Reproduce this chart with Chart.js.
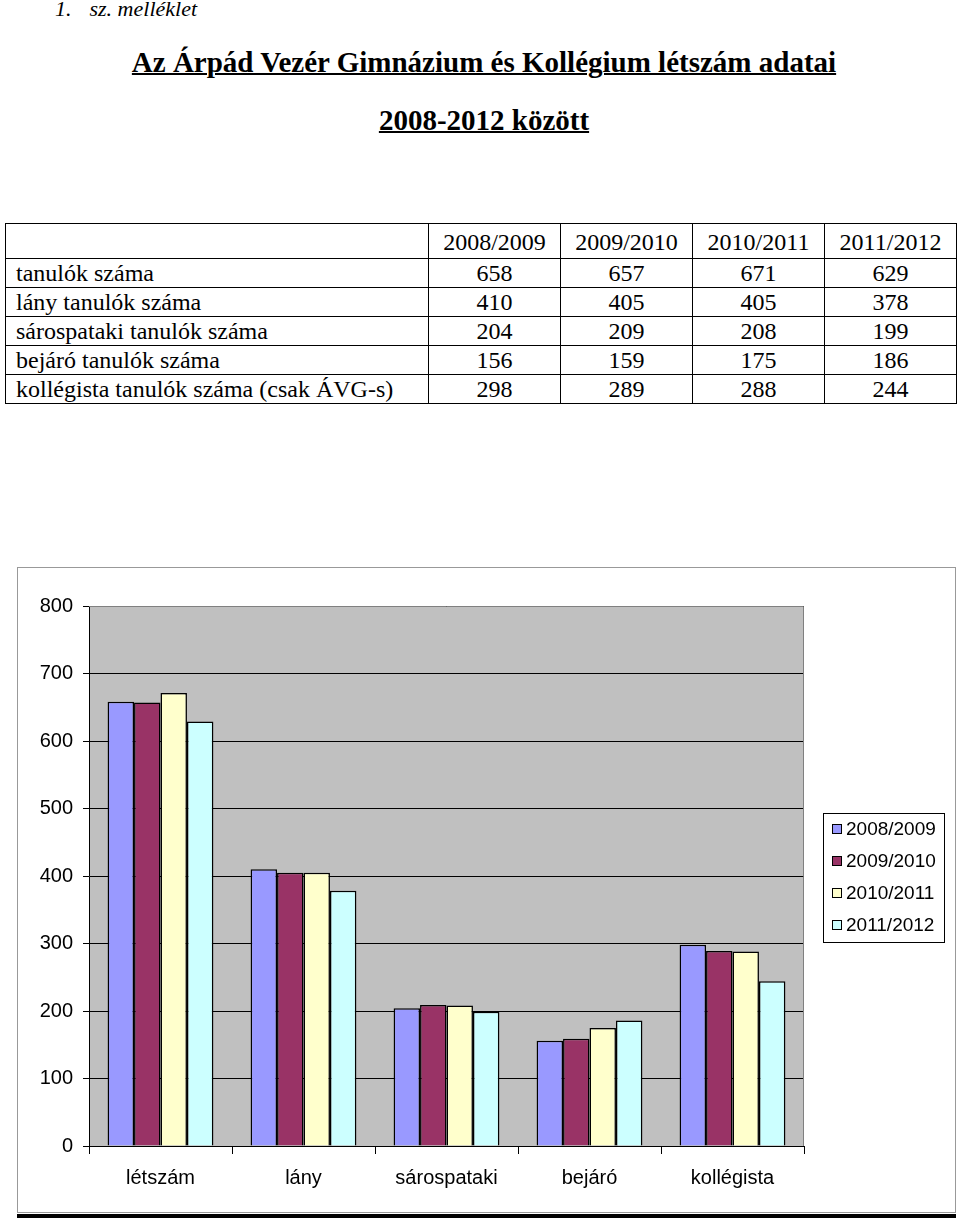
<!DOCTYPE html>
<html>
<head>
<meta charset="utf-8">
<script src="https://cdn.jsdelivr.net/npm/chart.js@4"></script>
<style>
    body { margin: 0; background: #fff; width: 960px; height: 1222px; position: relative; font-family: "Liberation Serif", "Times New Roman", serif; }
    #melleklet { position: absolute; left: 55px; top: -4px; font-size: 22px; font-style: italic; color: #000; }
    #melleklet span { margin-left: 18px; }
    .title { position: absolute; left: 0; width: 968px; text-align: center; font-weight: bold; font-size: 29px; text-decoration: underline; text-decoration-thickness: 2px; }
    #title1 { top: 46px; }
    #title2 { top: 104px; }
    table { position: absolute; left: 5px; top: 223px; width: 952px; border-collapse: collapse; font-size: 24px; }
    td { border: 1px solid #000; padding: 0 10px; height: 28px; line-height: 26px; white-space: nowrap; }
    td.num { text-align: center; width: 111px; }
    tr.head td { height: 32px; padding-top: 2px; }
    #chartBox { position: absolute; left: 17px; top: 567px; width: 937px; height: 644px; border: 1px solid #999; }
    #bottomLine { position: absolute; left: 17px; top: 1214px; width: 939px; height: 4px; background: #000; }
</style>
</head>
<body>
<div id="melleklet">1.<span>sz. melléklet</span></div>
<div class="title" id="title1">Az Árpád Vezér Gimnázium és Kollégium létszám adatai</div>
<div class="title" id="title2">2008-2012 között</div>
<table id="dataTable"></table>
<div id="chartBox"><canvas id="myChart" width="937" height="644"></canvas></div>
<div id="bottomLine"></div>
<script>
// school years = series
const years = ["2008/2009", "2009/2010", "2010/2011", "2011/2012"];
// row names in the table and short labels on the chart
const rowNames = ["tanulók száma", "lány tanulók száma", "sárospataki tanulók száma", "bejáró tanulók száma", "kollégista tanulók száma (csak ÁVG-s)"];
const categories = ["létszám", "lány", "sárospataki", "bejáró", "kollégista"];
// values per year, in category order
const y2008 = [658, 410, 204, 156, 298];
const y2009 = [657, 405, 209, 159, 289];
const y2010 = [671, 405, 208, 175, 288];
const y2011 = [629, 378, 199, 186, 244];
const yTicks = [0, 100, 200, 300, 400, 500, 600, 700, 800];

const seriesValues = [y2008, y2009, y2010, y2011];
const colors = ["#9999ff", "#993366", "#ffffcc", "#ccffff"];

// build the table above the chart
var html = '<tr class="head"><td></td>';
years.forEach(function(y) { html += '<td class="num">' + y + '</td>'; });
html += '</tr>';
rowNames.forEach(function(name, i) {
    html += '<tr><td>' + name + '</td>';
    seriesValues.forEach(function(s) { html += '<td class="num">' + s[i] + '</td>'; });
    html += '</tr>';
});
document.getElementById('dataTable').innerHTML = html;

// gray plot background + border, and the boxed legend on the right
const plotDecor = {
    id: 'plotDecor',
    beforeDraw: function(chart) {
        const a = chart.chartArea, c = chart.ctx;
        c.save();
        c.fillStyle = '#c0c0c0';
        c.fillRect(a.left, a.top, a.right - a.left, a.bottom - a.top);
        c.restore();
    },
    afterDraw: function(chart) {
        const a = chart.chartArea, c = chart.ctx;
        c.save();
        c.strokeStyle = '#808080';
        c.lineWidth = 1;
        c.beginPath();
        c.moveTo(a.left, a.top + 0.5);
        c.lineTo(a.right - 0.5, a.top + 0.5);
        c.lineTo(a.right - 0.5, a.bottom);
        c.stroke();
        // legend
        const lx = 805, ly = 245, lw = 121, lh = 129;
        c.fillStyle = '#fff';
        c.fillRect(lx, ly, lw, lh);
        c.strokeStyle = '#000';
        c.strokeRect(lx + 0.5, ly + 0.5, lw, lh);
        c.font = '19px "Liberation Sans", Arial, sans-serif';
        c.textBaseline = 'middle';
        chart.data.datasets.forEach(function(ds, i) {
            const cy = ly + 16 + i * 32;
            c.fillStyle = ds.backgroundColor;
            c.fillRect(lx + 9, cy - 5, 10, 10);
            c.strokeStyle = '#000';
            c.strokeRect(lx + 9.5, cy - 4.5, 9, 9);
            c.fillStyle = '#000';
            c.fillText(ds.label, lx + 23, cy + 1);
        });
        c.restore();
    }
};

var ctx = document.getElementById('myChart');
var myChart = new Chart(ctx, {
    type: 'bar',
    data: {
        labels: categories,
        datasets: years.map(function(y, i) {
            return {
                label: y,
                data: seriesValues[i],
                backgroundColor: colors[i],
                borderColor: '#000',
                borderWidth: 1.5,
                barPercentage: 1.0,
                categoryPercentage: 0.74
            };
        })
    },
    options: {
        responsive: false,
        animation: false,
        layout: { padding: { top: 38, right: 151, left: 0, bottom: 0 } },
        plugins: { legend: { display: false }, tooltip: { enabled: false } },
        scales: {
            x: {
                grid: { display: true, drawOnChartArea: false, color: '#000', tickLength: 8, offset: true },
                border: { color: '#000', width: 1 },
                ticks: { color: '#000', font: { family: '"Liberation Sans", Arial, sans-serif', size: 20 }, padding: 12 },
                afterFit: function(scale) { scale.height = 66; }
            },
            y: {
                min: 0,
                max: 800,
                afterBuildTicks: function(scale) { scale.ticks = yTicks.map(function(v) { return { value: v }; }); },
                grid: { color: '#000', lineWidth: 1, tickLength: 6 },
                border: { color: '#000', width: 1 },
                ticks: { color: '#000', font: { family: '"Liberation Sans", Arial, sans-serif', size: 20 }, padding: 10 },
                afterFit: function(scale) { scale.width = 71; }
            }
        }
    },
    plugins: [plotDecor]
});
</script>
</body>
</html>
